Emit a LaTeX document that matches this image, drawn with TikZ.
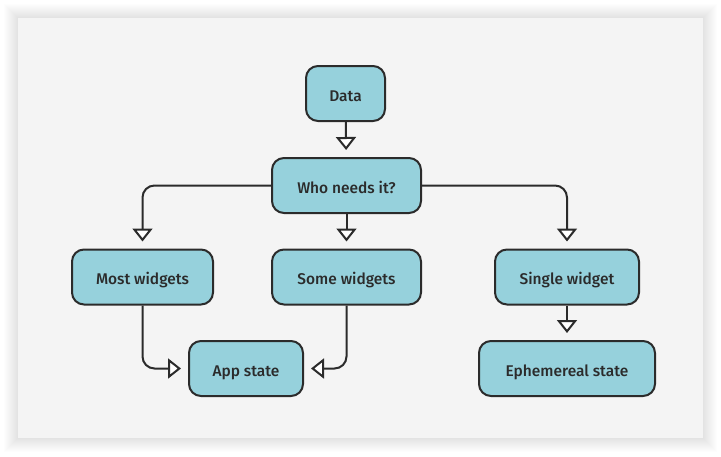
\documentclass[tikz,border=0pt]{standalone}
\usepackage{fontspec}
\setmainfont{Fira Sans}
\newfontfamily\boxfont{Fira Sans Medium}
\usepackage{xcolor}
\definecolor{panelgray}{HTML}{F4F4F4}
\definecolor{boxteal}{HTML}{96D1DC}
\definecolor{inkdark}{HTML}{2B2B2B}
\usetikzlibrary{arrows.meta}

\begin{document}
\begin{tikzpicture}[
  x=1pt, y=-1pt,
  font=\boxfont\fontsize{15.5}{18}\selectfont,
  box/.style={
    rectangle, rounded corners=12pt,
    minimum width=#1, minimum height=55pt,
    text height=15pt, text depth=0pt,
    align=center, text=inkdark,
    draw=inkdark, fill=boxteal,
    line width=2pt
  },
  arr/.style={-{Triangle[width=20pt,length=13pt,fill=white,line width=2pt]},
    line width=2pt, draw=inkdark, rounded corners=12pt, shorten >=7pt}
]
\useasboundingbox (0,0) rectangle (721,456);
% panel with soft shadow
\foreach \i in {1,...,14} {
  \fill[black, opacity=0.006] (18-\i,18-\i) rectangle (703+\i,438+\i);
}
\fill[panelgray] (18,18) rectangle (703,438);

\node[box=79pt] (data) at (345.5,93.5) {Data};
\node[box=149pt] (who) at (346.5,185.5) {Who needs it?};
\node[box=141pt] (most) at (142.5,277) {Most widgets};
\node[box=149pt] (some) at (346.5,277) {Some widgets};
\node[box=144pt] (single) at (567,277) {Single widget};
\node[box=114pt] (app) at (246,368.5) {App state};
\node[box=176pt] (ephem) at (567,368.5) {Ephemereal state};

\foreach \a/\b in {data/who,who/some,single/ephem} {
  \draw[arr] (\a) -- (\b);
}
\draw[arr] (who.west) -| (most.north);
\draw[arr] (who.east) -| (single.north);
\draw[arr] (most.south) |- (app.west);
\draw[arr] (some.south) |- (app.east);
\end{tikzpicture}
\end{document}
